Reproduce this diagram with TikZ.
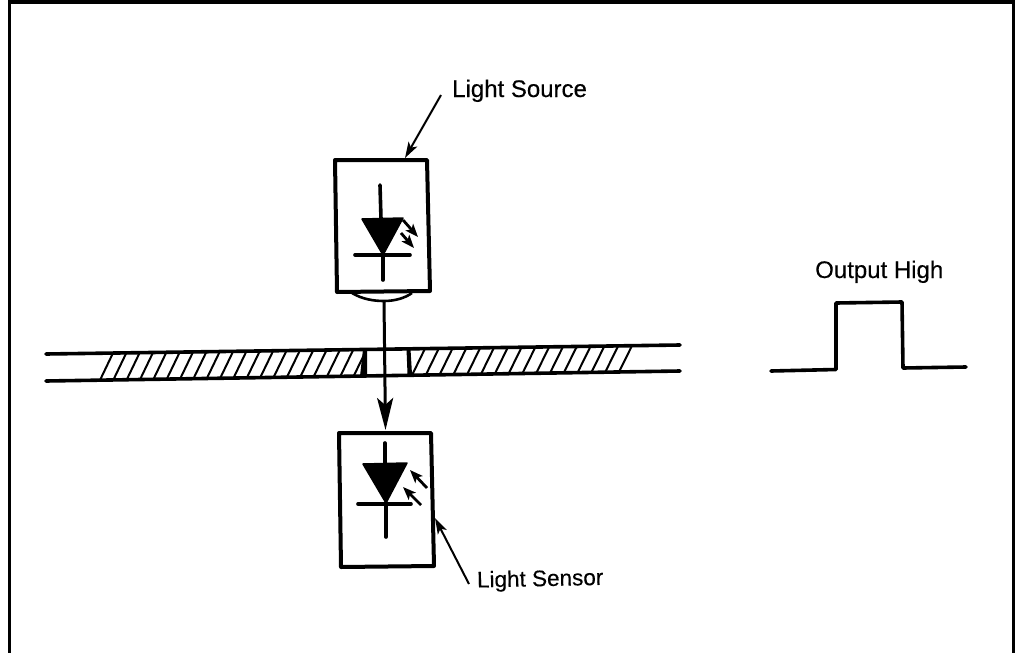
\documentclass[tikz,border=0pt]{standalone}
\usepackage{fontspec}
\setmainfont[FakeBold=0.35]{Liberation Sans}
\usetikzlibrary{arrows.meta}
\tikzset{
  frameline/.style={line width=3pt},
  boxline/.style={line width=4pt,line join=round,line cap=round},
  wire/.style={line width=3.6pt,line cap=round},
  plate/.style={line width=3.6pt,line cap=round},
  hatchline/.style={line width=2pt},
  leader/.style={line width=2pt,-{Stealth[length=16pt,width=10pt,inset=4pt]}},
  beam/.style={line width=3pt,-{Stealth[length=32pt,width=16pt,inset=7pt]}},
  ray/.style={line width=2.8pt,-{Stealth[length=13pt,width=10pt,inset=3pt]}},
  labeltext/.style={inner sep=0pt,anchor=base west,font=\fontsize{24}{28}\selectfont}
}
\begin{document}
\begin{tikzpicture}[x=1pt,y=-1pt]
\useasboundingbox (0,0) rectangle (1015,653);
% frame
\coordinate (fTL) at (9.5,1.5);
\coordinate (fTR) at (1013.5,1.5);
\coordinate (fBL) at (9.5,653);
\coordinate (fBR) at (1013.5,653);
\draw[frameline,line width=4pt] (8,1.5) -- (1015,1.5);
\draw[frameline] (fTL) -- (fBL);
\draw[frameline] (fTR) -- (fBR);
% plate
\coordinate (pTL) at (46,354);
\coordinate (pTR) at (680,345);
\coordinate (pBL) at (46,381);
\coordinate (pBR) at (680,371);
\draw[plate] (pTL) -- (pTR);
\draw[plate] (pBL) -- (pBR);
\foreach \k in {0,...,19}{
  \pgfmathsetmacro{\xb}{100+13.35*\k}
  \pgfmathsetmacro{\xt}{\xb+13}
  \pgfmathsetmacro{\yb}{381-(\xb-46)*10/634}
  \pgfmathsetmacro{\yt}{354-(\xt-46)*9/634}
  \draw[hatchline] (\xb,\yb) -- (\xt,\yt);
}
\foreach \k in {0,...,15}{
  \pgfmathsetmacro{\xb}{412+13.8*\k}
  \pgfmathsetmacro{\xt}{\xb+13}
  \pgfmathsetmacro{\yb}{381-(\xb-46)*10/634}
  \pgfmathsetmacro{\yt}{354-(\xt-46)*9/634}
  \draw[hatchline] (\xb,\yb) -- (\xt,\yt);
}
\fill (363,349.5) -- (367,349.5) -- (367,376) -- (360,376) -- cycle;
\fill (406.5,349) -- (410.5,349) -- (412,374) -- (407.5,374) -- cycle;
% source
\coordinate (sA) at (335,160);
\coordinate (sB) at (427,160);
\coordinate (sC) at (430,291);
\coordinate (sD) at (337,292);
\draw[boxline] (sA) -- (sB) -- (sC) -- (sD) -- cycle;
\coordinate (sTop) at (380,185);
\coordinate (sTL) at (362,219);
\coordinate (sTR) at (403,218);
\coordinate (sApex) at (383,255);
\coordinate (sBarL) at (355,255);
\coordinate (sBarR) at (410,255);
\coordinate (sEnd) at (383,280);
\draw[wire] (sTop) -- (381,219);
\fill[draw,line width=1.5pt,line join=round] (sTL) -- (sTR) -- (sApex) -- cycle;
\draw[wire] (sBarL) -- (sBarR);
\draw[wire] (sApex) -- (sEnd);
\coordinate (rA1) at (403,220);
\coordinate (rA2) at (418,237);
\coordinate (rB1) at (401,233);
\coordinate (rB2) at (414,248);
\draw[ray] (rA1) -- (rA2);
\draw[ray] (rB1) -- (rB2);
% lens and beam
\coordinate (lL) at (352,293);
\coordinate (lM) at (384,301);
\coordinate (lR) at (412,293);
\draw[line width=2.6pt] (lL) .. controls (362,299) and (373,301) .. (lM) .. controls (395,301) and (405,298) .. (lR);
\coordinate (bTip) at (385.5,430);
\draw[beam] (lM) -- (bTip);
% sensor
\coordinate (dA) at (339,433);
\coordinate (dB) at (431,433);
\coordinate (dC) at (434,566);
\coordinate (dD) at (341,567);
\draw[boxline] (dA) -- (dB) -- (dC) -- (dD) -- cycle;
\coordinate (dTop) at (385,443);
\coordinate (dTL) at (363,464);
\coordinate (dTR) at (407,463);
\coordinate (dApex) at (386,503);
\coordinate (dBarL) at (358,504);
\coordinate (dBarR) at (411,504);
\coordinate (dEnd) at (386,537);
\draw[wire] (dTop) -- (385,464);
\fill[draw,line width=1.5pt,line join=round] (dTL) -- (dTR) -- (dApex) -- cycle;
\draw[wire] (dBarL) -- (dBarR);
\draw[wire] (dApex) -- (dEnd);
\coordinate (qA1) at (427,488);
\coordinate (qA2) at (410,470);
\coordinate (qB1) at (421,505);
\coordinate (qB2) at (403,487);
\draw[ray] (qA1) -- (qA2);
\draw[ray] (qB1) -- (qB2);
% pulse
\coordinate (w1) at (771,371);
\coordinate (w2) at (836,369.5);
\coordinate (w3) at (836,303);
\coordinate (w4) at (902,302);
\coordinate (w5) at (903,368);
\coordinate (w6) at (966,367);
\draw[line width=3.6pt,line cap=round,line join=round] (w1) -- (w2) -- (w3) -- (w4) -- (w5) -- (w6);
% labels
\node[labeltext] (source) at (452,97) {Light Source};
\node[labeltext] (output) at (815,278) {Output High};
\node[labeltext,rotate=1.2,font=\fontsize{22.5}{26}\selectfont] (sensor) at (477,587.5) {Light Sensor};
\coordinate (lsFree) at (441,95);
\coordinate (lsTip) at (405,158);
\coordinate (ldFree) at (469,584);
\coordinate (ldTip) at (435,518);
\draw[leader] (lsFree) -- (lsTip);
\draw[leader] (ldFree) -- (ldTip);
\end{tikzpicture}
\end{document}
